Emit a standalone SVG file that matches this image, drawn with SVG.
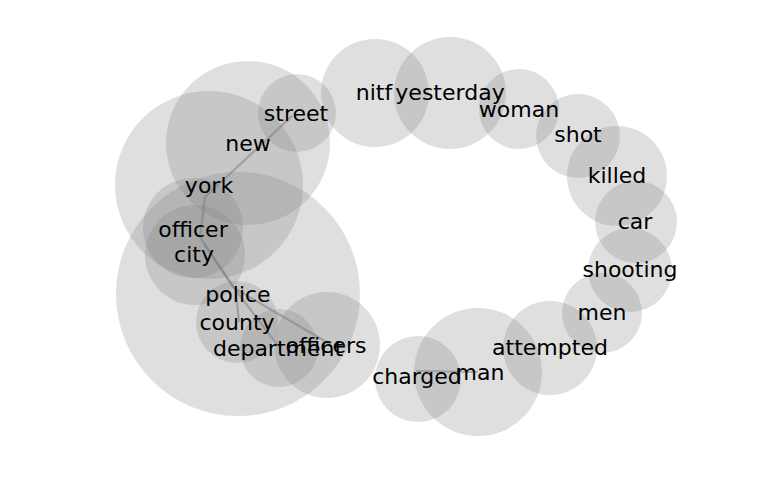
<svg xmlns="http://www.w3.org/2000/svg" width="768" height="500" viewBox="0 0 768 500">
<style>
.n circle{fill:#808080;fill-opacity:0.25;stroke:none}
.n text{font-family:"DejaVu Sans",sans-serif;font-size:22px;fill:#000;text-anchor:middle}
.e line{stroke:#808080;stroke-opacity:0.55;stroke-width:2.2}
</style>
<rect width="768" height="500" fill="#fff"/>
<g id="circles" class="n">
<circle id="c-police" cx="238" cy="294" r="122"/>
<circle id="c-york" cx="209" cy="185" r="94"/>
<circle id="c-new" cx="248" cy="143" r="82"/>
<circle id="c-street" cx="297" cy="113" r="39"/>
<circle id="c-officer" cx="193" cy="228" r="50"/>
<circle id="c-city" cx="195" cy="255" r="50"/>
<circle id="c-county" cx="237" cy="322" r="41"/>
<circle id="c-department" cx="279" cy="348" r="39"/>
<circle id="c-officers" cx="327" cy="345" r="53"/>
<circle id="c-charged" cx="418" cy="379" r="43"/>
<circle id="c-man" cx="478" cy="372" r="64"/>
<circle id="c-attempted" cx="550" cy="348" r="47"/>
<circle id="c-men" cx="602" cy="313" r="40"/>
<circle id="c-shooting" cx="630" cy="270" r="42"/>
<circle id="c-car" cx="636" cy="222" r="41"/>
<circle id="c-killed" cx="617" cy="176" r="50"/>
<circle id="c-shot" cx="578" cy="136" r="42"/>
<circle id="c-woman" cx="519" cy="109" r="40"/>
<circle id="c-yesterday" cx="450" cy="93" r="56"/>
<circle id="c-nitf" cx="375" cy="93" r="54"/>
</g>
<g id="connectors" class="e">
<line x1="292" y1="116" x2="205" y2="197"/>
<line x1="205" y1="197" x2="200" y2="237"/>
<line x1="200" y1="237" x2="234" y2="288"/>
<line x1="204" y1="244" x2="234" y2="288"/>
<line x1="234" y1="288" x2="279" y2="347"/>
<line x1="236" y1="292" x2="239" y2="322"/>
<line x1="234" y1="288" x2="330" y2="344"/>
<line x1="416" y1="371" x2="478" y2="372"/>
</g>
<g id="labels" class="n">
<g id="street"><text x="296" y="121">street</text></g>
<g id="new"><text x="248" y="151">new</text></g>
<g id="york"><text x="209" y="193">york</text></g>
<g id="officer"><text x="193" y="237">officer</text></g>
<g id="city"><text x="194" y="262">city</text></g>
<g id="police"><text x="238" y="302">police</text></g>
<g id="county"><text x="237" y="330">county</text></g>
<g id="department"><text x="278" y="356">department</text></g>
<g id="officers"><text x="326" y="353">officers</text></g>
<g id="charged"><text x="417" y="384">charged</text></g>
<g id="man"><text x="480" y="380">man</text></g>
<g id="attempted"><text x="550" y="355">attempted</text></g>
<g id="men"><text x="602" y="320">men</text></g>
<g id="shooting"><text x="630" y="277">shooting</text></g>
<g id="car"><text x="635" y="229">car</text></g>
<g id="killed"><text x="617" y="183">killed</text></g>
<g id="shot"><text x="578" y="142">shot</text></g>
<g id="woman"><text x="519" y="117">woman</text></g>
<g id="yesterday"><text x="450" y="100">yesterday</text></g>
<g id="nitf"><text x="374" y="100">nitf</text></g>
</g>
</svg>
